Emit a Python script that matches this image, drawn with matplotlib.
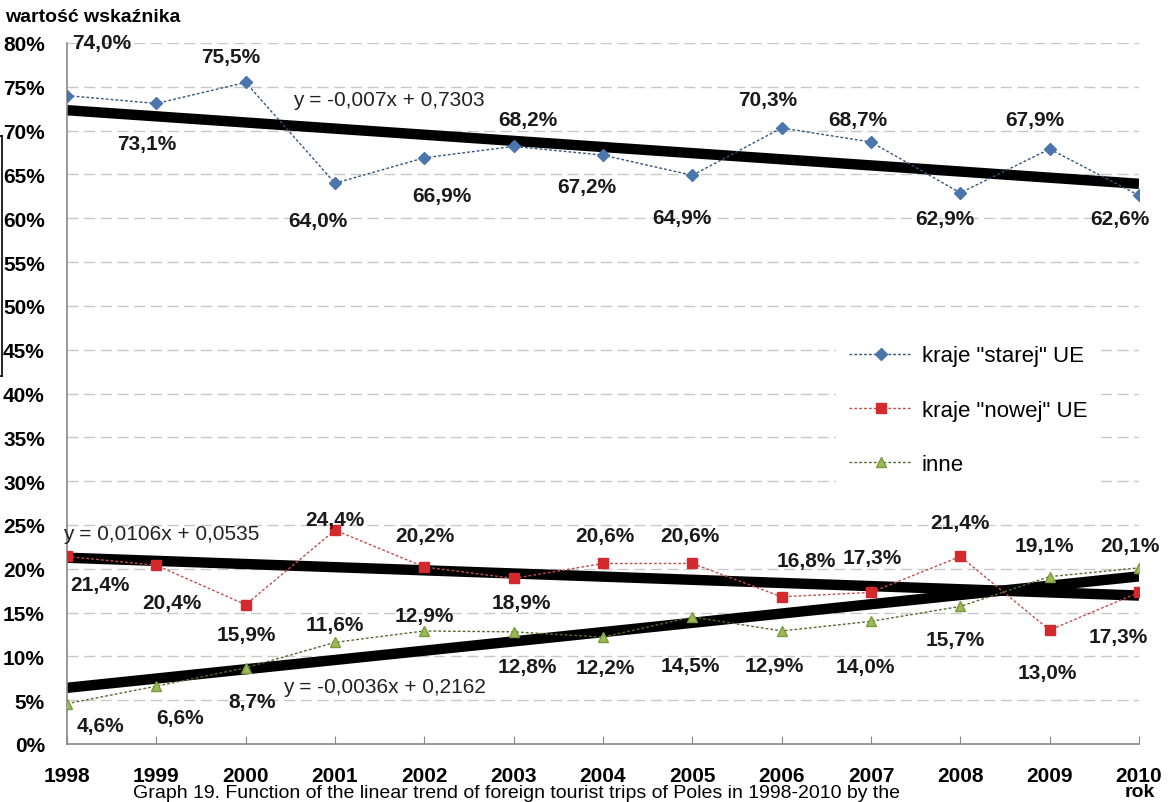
import matplotlib
matplotlib.use("Agg")
import matplotlib.pyplot as plt
import numpy as np
from matplotlib.lines import Line2D

plt.rcParams['font.family'] = ['Liberation Sans Narrow', 'Liberation Sans', 'DejaVu Sans']

years = [1998, 1999, 2000, 2001, 2002, 2003, 2004, 2005, 2006, 2007, 2008, 2009, 2010]
stare = [74.0, 73.1, 75.5, 64.0, 66.9, 68.2, 67.2, 64.9, 70.3, 68.7, 62.9, 67.9, 62.6]
nowe = [21.4, 20.4, 15.9, 24.4, 20.2, 18.9, 20.6, 20.6, 16.8, 17.3, 21.4, 13.0, 17.3]
inne = [4.6, 6.6, 8.7, 11.6, 12.9, 12.8, 12.2, 14.5, 12.9, 14.0, 15.7, 19.1, 20.1]

# trend lines (slope, intercept), x = 1..13
trend_stare = (-0.007, 0.7303)
trend_nowe = (-0.0036, 0.2162)
trend_inne = (0.0106, 0.0535)

eq_labels = ["y = -0,007x + 0,7303", "y = 0,0106x + 0,0535", "y = -0,0036x + 0,2162"]
series_names = ['kraje "starej" UE', 'kraje "nowej" UE', 'inne']

# label offsets in pixels (dx, dy up) relative to the point
off_stare = [(35, 53), (-10, -40), (-15, 26), (-17, -37), (18, -38), (14, 27), (-16, -31),
             (-10, -42), (-14, 28), (-13, 23), (-15, -26), (-15, 30), (-19, -23)]
off_nowe = [(33, -28), (16, -37), (1, -30), (0, 11), (1, 31), (8, -24), (2, 28),
            (-2, 28), (25, 36), (1, 35), (0, 34), (-2, -42), (-21, -44)]
off_inne = [(33, -22), (24, -31), (6, -34), (0, 18), (0, 15), (14, -35), (2, -30),
            (-2, -49), (-7, -35), (-6, -45), (-5, -33), (-5, 31), (-9, 22)]

fig = plt.figure(figsize=(11.72, 8.03), dpi=100)
ax = fig.add_axes([67/1172, 1-745/803, (1139-67)/1172, 701/803])

px = 72.0 / 100  # pixels -> points

for yv in np.arange(5, 85, 5):
    ax.axhline(yv, color='#c8c8c8', lw=1.0, ls=(0, (8, 4)), zorder=0)

x_idx = np.arange(1, len(years) + 1)
for m, b in [trend_stare, trend_nowe, trend_inne]:
    ax.plot(years, (m * x_idx + b) * 100, color='black', lw=7.5, zorder=2, solid_capstyle='butt')

ax.plot(years, stare, ls=(0, (2, 1.5)), lw=1.0, color='#35557e', marker='D', ms=6,
        mfc='#4a76ad', mec='#4a76ad', zorder=3, label=series_names[0])
ax.plot(years, nowe, ls=(0, (2, 1.5)), lw=1.0, color='#c0504d', marker='s', ms=7,
        mfc='#d42a2e', mec='#d42a2e', zorder=3, label=series_names[1])
ax.plot(years, inne, ls=(0, (2, 1.5)), lw=1.0, color='#556b2f', marker='^', ms=7,
        mfc='#9bbb59', mec='#7a9a3a', zorder=3, label=series_names[2])

for vals, offs in [(stare, off_stare), (nowe, off_nowe), (inne, off_inne)]:
    for x, v, (dx, dy) in zip(years, vals, offs):
        ax.annotate(f"{v:.1f}%".replace('.', ','), (x, v), xytext=(dx * px, dy * px),
                    textcoords='offset points', ha='center', va='center',
                    fontsize=15, fontweight='bold', color='#1a1a1a', zorder=5)

ax.text(2001.6, 73.6, eq_labels[0], fontsize=15, color='#222222', ha='center', va='center', zorder=4)
ax.text(1999.05, 24.0, eq_labels[1], fontsize=15, color='#222222', ha='center', va='center', zorder=4)
ax.text(2001.55, 6.6, eq_labels[2], fontsize=15, color='#222222', ha='center', va='center', zorder=4)

ax.set_xlim(1998, 2010)
ax.set_ylim(0, 80)
ax.set_xticks(years)
ax.set_xticklabels([str(y) for y in years], fontsize=15, fontweight='bold')
ax.set_yticks(np.arange(0, 85, 5))
ax.set_yticklabels([f"{v}%" for v in range(0, 85, 5)], fontsize=15, fontweight='bold')
ax.tick_params(axis='x', direction='in', length=6, color='#888888', pad=16)
ax.tick_params(axis='y', length=0, pad=16)
for s in ['top', 'right']:
    ax.spines[s].set_visible(False)
for s in ['left', 'bottom']:
    ax.spines[s].set_color('#888888')
    ax.spines[s].set_linewidth(1.2)

leg = ax.legend(loc='upper left', bbox_to_anchor=(758/1072, 1-278/701), frameon=True,
                fontsize=16, handlelength=2.8, handletextpad=0.45, labelspacing=1.5, borderpad=0.6)
leg.get_frame().set_edgecolor('none')
leg.get_frame().set_facecolor('white')
leg.get_frame().set_alpha(1.0)

fig.text(5/1172, 1-18/803, 'wartość wskaźnika', fontsize=14, fontweight='bold', ha='left', va='center')
fig.text(1140/1172, 1-793/803, 'rok', fontsize=14, fontweight='bold', ha='center', va='center')
fig.text(133/1172, 1-785/803,
         'Graph 19. Function of the linear trend of foreign tourist trips of Poles in 1998-2010 by the',
         fontsize=14, ha='left', va='top', family=['Liberation Sans', 'DejaVu Sans'])

# bracket on the left edge
fig.add_artist(Line2D([2/1172, 2/1172], [1-137/803, 1-377/803], color='black', lw=1.2))
fig.add_artist(Line2D([0, 2/1172], [1-137/803, 1-137/803], color='black', lw=1.2))
fig.add_artist(Line2D([0, 2/1172], [1-377/803, 1-377/803], color='black', lw=1.2))

fig.savefig('out.png', dpi=100)
